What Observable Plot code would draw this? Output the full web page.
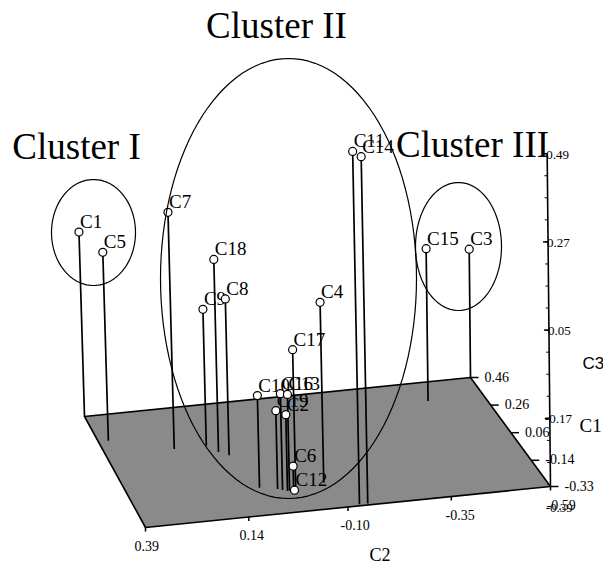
<!DOCTYPE html>
<html><head><meta charset="utf-8">
<script src="https://cdn.jsdelivr.net/npm/d3@7"></script>
<script src="https://cdn.jsdelivr.net/npm/@observablehq/plot@0.6"></script>
<style>body{margin:0;background:#fff}#chart svg{display:block}</style>
</head><body><div id="chart"></div>
<script>
// ---- data ----
const names = ["C1","C5","C7","C9","C18","C8","C10","C16","C19","C2","C13","C17","C6","C12","C4","C11","C14","C15","C3"];
const c2Vals = [0.39, 0.365, 0.22, 0.14, 0.12, 0.10, 0.075, 0.025, 0.035, 0.015, 0.01, -0.005, 0.0, -0.002, -0.08, -0.13, -0.15, -0.45, -0.59];
const c1Vals = [0.46, 0.28, 0.18, 0.18, 0.13, 0.10, -0.14, -0.17, -0.16, -0.18, -0.18, -0.18, -0.18, -0.18, -0.15, -0.32, -0.32, 0.33, 0.46];
const c3Vals = [0.12, 0.13, 0.25, 0.00, 0.14, 0.05, -0.11, -0.10, -0.145, -0.15, -0.10, 0.01, -0.28, -0.34, 0.11, 0.54, 0.525, 0.04, -0.02];
const c2Ticks = [0.39, 0.14, -0.10, -0.35, -0.59];
const c1Ticks = [0.46, 0.26, 0.06, -0.14, -0.33];
const c3Ticks = [0.49, 0.27, 0.05, -0.17, -0.39];
const clusterNames = ["Cluster I", "Cluster II", "Cluster III"];

// ---- 3-D camera (projection of data space onto the page) ----
const C3_FLOOR = -0.34;
const CAM = {fl:[145,527], fr:[550,486], bl:[84,416], br:[470,377], zScale:401, lean0:0.03, lean1:0.01};
const c2Dom = [d3.max(c2Ticks), d3.min(c2Ticks)];   // left -> right
const c1Dom = [d3.min(c1Ticks), d3.max(c1Ticks)];   // front -> back
function project(v2, v1, v3) {
  const s = (c2Dom[0] - v2) / (c2Dom[0] - c2Dom[1]);
  const t = (v1 - c1Dom[0]) / (c1Dom[1] - c1Dom[0]);
  const b = (k) => (1-s)*(1-t)*CAM.fl[k] + s*(1-t)*CAM.fr[k] + (1-s)*t*CAM.bl[k] + s*t*CAM.br[k];
  const h = (v3 - C3_FLOOR) * CAM.zScale;
  const lean = CAM.lean0 + (CAM.lean1 - CAM.lean0) * s;
  return [b(0) - lean*h, b(1) - h];
}
const fmt = v => v.toFixed(2);

const points = names.map((n, i) => {
  const [gx, gy] = project(c2Vals[i], c1Vals[i], C3_FLOOR);
  const [mx, my] = project(c2Vals[i], c1Vals[i], c3Vals[i]);
  return {n, gx, gy, mx, my};
});

const floor = [[c2Dom[0],c1Dom[0]],[c2Dom[1],c1Dom[0]],[c2Dom[1],c1Dom[1]],[c2Dom[0],c1Dom[1]],[c2Dom[0],c1Dom[0]]]
  .map(([a,b]) => { const [x,y] = project(a,b,C3_FLOOR); return {x,y}; });

// C2 axis ticks (front edge)
const c2TickData = c2Ticks.map((v,i) => {
  const [x,y] = project(v, c1Dom[0], C3_FLOOR);
  const s = i/(c2Ticks.length-1);
  return {x, y, y2: y+4, lx: x - 11 + 7*s, ly: y + 23, label: fmt(v)};
});
// C1 axis ticks (right edge)
const c1TickData = c1Ticks.map(v => {
  const [x,y] = project(c2Dom[1], v, C3_FLOOR);
  return {x, y, x2: x+8, lx: x+14, ly: y+4, label: fmt(v)};
});
// C3 axis (vertical at front-right corner)
const c3Top = d3.max(c3Ticks);
const [axB_x, axB_y] = project(c2Dom[1], c1Dom[0], C3_FLOOR);
const [axT_x, axT_y] = project(c2Dom[1], c1Dom[0], c3Top);
const c3TickData = c3Ticks.map(v => {
  const [x,y] = project(c2Dom[1], c1Dom[0], v);
  return {x, y, lx: x + (v < 0 ? -5 : -1), ly: y + 5, label: fmt(v), inAxis: v >= C3_FLOOR};
});
const minorStep = (c3Ticks[0]-c3Ticks[1])/4;
const c3Minor = d3.range(c3Top, C3_FLOOR, -minorStep).map(v => {
  const [x,y] = project(c2Dom[1], c1Dom[0], v); return {x, y};
});

// cluster ellipse annotations (page units)
const ellipses = [
  {k:0, cx:93,  cy:232, rx:42,  ry:53,  tx:76,  ty:158},
  {k:1, cx:288, cy:278, rx:128, ry:220, tx:276, ty:37},
  {k:2, cx:458, cy:246, rx:43,  ry:64,  tx:472, ty:156}
];
const ellPts = ellipses.flatMap(e => d3.range(0, 361, 3).map(a => ({
  k: e.k, x: e.cx + e.rx*Math.cos(a*Math.PI/180), y: e.cy + e.ry*Math.sin(a*Math.PI/180)
})));
const titles = ellipses.map(e => ({x: e.tx, y: e.ty, text: clusterNames[e.k]}));

const serif = "'Liberation Serif', 'Times New Roman', serif";
const tickFont = {fontSize:14, fontFamily:serif, fill:"black", textAnchor:"start", lineAnchor:"bottom"};
const chart = Plot.plot({
  width: 603, height: 565, margin: 0,
  x: {domain: [0, 603], axis: null},
  y: {domain: [565, 0], axis: null},
  style: {background: "white"},
  marks: [
    Plot.line(floor, {x:"x", y:"y", fill:"#8a8a8a", stroke:"black", strokeWidth:1.6}),
    Plot.link(c2TickData, {x1:"x", y1:"y", x2:"x", y2:"y2", stroke:"black", strokeWidth:1.5}),
    Plot.text(c2TickData, {x:"lx", y:"ly", text:"label", ...tickFont}),
    Plot.link(c1TickData, {x1:"x", y1:"y", x2:"x2", y2:"y", stroke:"black", strokeWidth:1.5}),
    Plot.text(c1TickData, {x:"lx", y:"ly", text:"label", ...tickFont}),
    Plot.link([{}], {x1:() => axB_x, y1:() => axB_y, x2:() => axT_x, y2:() => axT_y, stroke:"black", strokeWidth:1.6}),
    Plot.link(c3Minor, {x1:"x", y1:"y", x2: d => d.x - 3, y2:"y", stroke:"black", strokeWidth:1}),
    Plot.link(c3TickData.filter(d => d.inAxis), {x1:"x", y1:"y", x2: d => d.x - 5, y2:"y", stroke:"black", strokeWidth:1.5}),
    Plot.text(c3TickData, {x:"lx", y:"ly", text:"label", ...tickFont, fontSize:13}),
    Plot.link(points, {x1:"gx", y1:"gy", x2:"mx", y2:"my", stroke:"black", strokeWidth:1.7}),
    Plot.text(points, {x:"mx", y:"my", text:"n", textAnchor:"start", lineAnchor:"bottom", dx:1, dy:-4, fontSize:19, fontFamily:serif, fill:"black"}),
    Plot.dot(points, {x:"mx", y:"my", r:4, fill:"white", stroke:"black", strokeWidth:1.2}),
    Plot.line(ellPts, {x:"x", y:"y", z:"k", stroke:"black", strokeWidth:1.2}),
    Plot.text(titles, {x:"x", y:"y", text:"text", textAnchor:"middle", lineAnchor:"bottom", fontSize:37, fontFamily:serif, fill:"black"}),
    Plot.text([{t:"C3"}], {x:() => 582, y:() => 368, text:"t", textAnchor:"start", lineAnchor:"bottom", fontSize:17, fontFamily:"'Liberation Sans', Arial, sans-serif", fill:"black"}),
    Plot.text([{t:"C1"}], {x:() => 579, y:() => 431, text:"t", textAnchor:"start", lineAnchor:"bottom", fontSize:19, fontFamily:serif, fill:"black"}),
    Plot.text([{t:"C2"}], {x:() => 369, y:() => 560, text:"t", textAnchor:"start", lineAnchor:"bottom", fontSize:18, fontFamily:serif, fill:"black"})
  ]
});
document.getElementById("chart").appendChild(chart);
</script>
</body></html>
